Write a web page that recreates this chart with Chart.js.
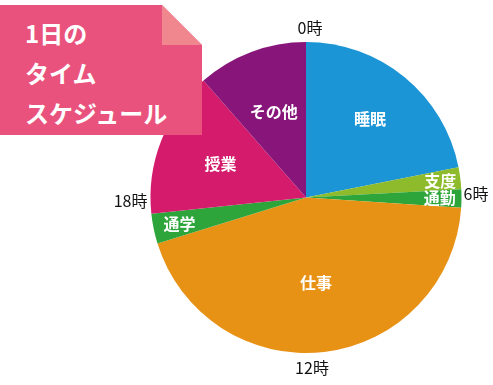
<!DOCTYPE html>
<html>
<head>
<meta charset="utf-8">
<script src="https://cdn.jsdelivr.net/npm/chart.js@4"></script>
<style>
  body { margin: 0; background: #fff; }
  #wrap { position: relative; width: 493px; height: 385px; }
  #note {
    position: absolute; left: 0; top: 5px; width: 202px; height: 130px;
    background: #e9527d;
    clip-path: polygon(0 0, 162px 0, 202px 40px, 202px 100%, 0 100%);
    color: #fff; font: bold 24px "Noto Sans CJK JP", sans-serif;
    line-height: 40px; padding: 8px 0 0 25px; box-sizing: border-box;
  }
  #fold {
    position: absolute; left: 162px; top: 5px; width: 40px; height: 40px;
    background: #f0878f;
    clip-path: polygon(0 0, 0 100%, 100% 100%);
  }
</style>
</head>
<body>
<div id="wrap">
  <canvas id="schedule-chart" width="493" height="385"></canvas>
  <div id="note">1日の<br>タイム<br>スケジュール</div>
  <div id="fold"></div>
</div>
<script>
var categories = ['睡眠', '支度', '通勤', '仕事', '通学', '授業', 'その他'];
var hours = [5.25, 0.55, 0.45, 10.6, 0.75, 3.65, 2.75];
var hourLabels = ['0時', '6時', '12時', '18時'];
var sliceColors = ['#1b95d5', '#8dbb2b', '#2da53a', '#e89215', '#2da53a', '#d51c6c', '#88157a'];
// how far out (fraction of radius) each slice label sits
var labelRadius = [0.65, 0.87, 0.86, 0.55, 0.83, 0.59, 0.59];

var labelPlugin = {
  id: 'labels',
  afterDatasetsDraw: function(chart) {
    var ctx = chart.ctx;
    var arcs = chart.getDatasetMeta(0).data;
    ctx.save();
    ctx.fillStyle = '#fff';
    ctx.font = 'bold 16px "Noto Sans CJK JP", sans-serif';
    ctx.textAlign = 'center';
    ctx.textBaseline = 'middle';
    arcs.forEach(function(arc, i) {
      var mid = (arc.startAngle + arc.endAngle) / 2;
      var r = arc.outerRadius * labelRadius[i];
      ctx.fillText(categories[i], arc.x + Math.cos(mid) * r, arc.y + Math.sin(mid) * r);
    });

    // clock hour labels round the pie
    var a = arcs[0];
    var cx = a.x, cy = a.y, R = a.outerRadius;
    ctx.fillStyle = '#111';
    ctx.font = '16px "Noto Sans CJK JP", sans-serif';
    ctx.textAlign = 'center';
    ctx.textBaseline = 'bottom';
    ctx.fillText(hourLabels[0], cx + 4, cy - R - 6);
    ctx.textBaseline = 'top';
    ctx.fillText(hourLabels[2], cx + 6, cy + R + 7);
    ctx.textBaseline = 'middle';
    ctx.textAlign = 'left';
    ctx.fillText(hourLabels[1], cx + R + 2, cy - 4);
    ctx.textAlign = 'right';
    ctx.fillText(hourLabels[3], cx - R - 3, cy + 3);
    ctx.restore();
  }
};

new Chart('schedule-chart', {
  type: 'pie',
  data: {
    labels: categories,
    datasets: [{
      data: hours,
      backgroundColor: sliceColors,
      borderWidth: 0
    }]
  },
  options: {
    responsive: false,
    animation: false,
    layout: { padding: { left: 150, right: 31, top: 42, bottom: 32 } },
    plugins: {
      legend: { display: false },
      tooltip: { enabled: false }
    }
  },
  plugins: [labelPlugin]
});
</script>
</body>
</html>
